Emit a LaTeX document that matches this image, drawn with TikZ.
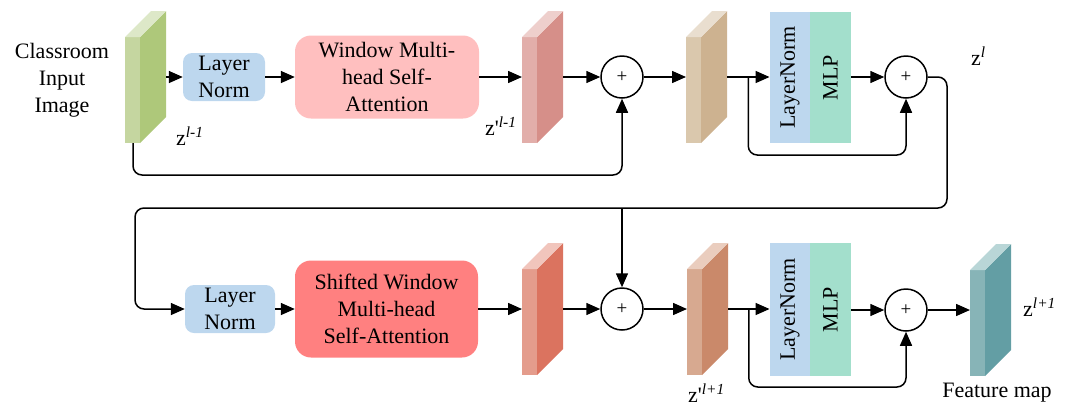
\documentclass[tikz,border=0pt]{standalone}
\usepackage{fontspec}
\setmainfont{Liberation Serif}
\usetikzlibrary{arrows.meta,calc}
\definecolor{lnblue}{RGB}{189,215,238}
\definecolor{mlpgreen}{RGB}{163,223,204}
\definecolor{wpink}{RGB}{255,191,191}
\definecolor{swred}{RGB}{255,128,128}
\definecolor{gF}{RGB}{197,214,160}\definecolor{gS}{RGB}{174,200,122}\definecolor{gT}{RGB}{221,232,200}
\definecolor{pF}{RGB}{226,174,170}\definecolor{pS}{RGB}{214,143,137}\definecolor{pT}{RGB}{238,207,204}
\definecolor{tF}{RGB}{218,200,173}\definecolor{tS}{RGB}{205,178,144}\definecolor{tT}{RGB}{233,222,207}
\definecolor{rF}{RGB}{228,156,140}\definecolor{rS}{RGB}{219,115,95}\definecolor{rT}{RGB}{241,197,188}
\definecolor{qF}{RGB}{215,169,144}\definecolor{qS}{RGB}{202,137,106}\definecolor{qT}{RGB}{234,205,190}
\definecolor{fF}{RGB}{135,180,183}\definecolor{fS}{RGB}{99,158,164}\definecolor{fT}{RGB}{185,214,215}
% #1 name, #2 x, #3 y top of front, #4 front, #5 side, #6 top
\newcommand\featblock[6]{%
  \fill[#4] (#2,#3) rectangle ++(15,106);
  \fill[#5] (#2,#3) ++(15,0) -- ++(26,-26) -- ++(0,106) -- ++(-26,26) -- cycle;
  \fill[#6] (#2,#3) -- ++(15,0) -- ++(26,-26) -- ++(-15,0) -- cycle;
  \path (#2,#3) ++(0,40) coordinate (#1L) ++(41,0) coordinate (#1R);
  \path (#2,#3) ++(8,106) coordinate (#1B);
}
\tikzset{
  txt/.style={font=\fontsize{22}{27}\selectfont},
  arr/.style={line width=1.5pt,-{Triangle[length=14pt,width=12pt]}},
  boxstyle/.style={txt,rounded corners=9pt,inner sep=0pt,align=center},
  plusnode/.style={circle,draw,line width=1.5pt,minimum size=42pt,inner sep=0pt,font=\fontsize{19}{20}\selectfont},
  vbar/.style={txt,inner sep=0pt,minimum width=40.5pt},
}
\begin{document}
\begin{tikzpicture}[x=1pt,y=-1pt]
\useasboundingbox (0,0) rectangle (1069,408);

% feature blocks
\featblock{g}{125}{37}{gF}{gS}{gT}
\featblock{p}{522}{37}{pF}{pS}{pT}
\featblock{t}{686}{37}{tF}{tS}{tT}
\featblock{r}{522}{269}{rF}{rS}{rT}
\featblock{q}{687}{269}{qF}{qS}{qT}
\featblock{f}{970}{270}{fF}{fS}{fT}

% boxes top row
\node[boxstyle,fill=lnblue,minimum width=82pt,minimum height=48pt] (ln1) at (224,77) {Layer\\Norm};
\node[boxstyle,fill=wpink,rounded corners=16pt,minimum width=184pt,minimum height=83pt] (wmsa) at (387,77) {Window Multi-\\head Self-\\Attention};
\node[vbar,fill=lnblue,minimum height=131pt] (lnA) at (790,77.5) {\rotatebox{90}{LayerNorm}};
\node[vbar,fill=mlpgreen,minimum height=131pt] (mlpA) at (830.5,77.5) {\rotatebox{90}{MLP}};
\node[plusnode] (c1) at (622,77) {+};
\node[plusnode] (c2) at (906,77) {+};

% boxes bottom row
\node[boxstyle,fill=lnblue,minimum width=90pt,minimum height=48pt] (ln2) at (230,309) {Layer\\Norm};
\node[boxstyle,fill=swred,rounded corners=16pt,minimum width=183pt,minimum height=97pt] (swmsa) at (386.5,309) {Shifted Window\\Multi-head\\Self-Attention};
\node[vbar,fill=lnblue,minimum height=133pt] (lnB) at (790,309.5) {\rotatebox{90}{LayerNorm}};
\node[vbar,fill=mlpgreen,minimum height=133pt] (mlpB) at (830.5,309.5) {\rotatebox{90}{MLP}};
\node[plusnode] (c3) at (622,309) {+};
\node[plusnode] (c4) at (906,310) {+};

% labels
\node[txt,align=center] (inlab) at (62,80) {Classroom\\Input\\Image};
\node[txt,anchor=base west,inner sep=0pt] (z1) at (176,145) {z\textsuperscript{\textit{l-1}}};
\node[txt,anchor=base west,inner sep=0pt] (z2) at (485,135) {z\textquotesingle\textsuperscript{\textit{l-1}}};
\node[txt,anchor=base west,inner sep=0pt] (z3) at (971,65) {z\textsuperscript{\textit{l}}};
\node[txt,anchor=base west,inner sep=0pt] (z4) at (688,402) {z\textquotesingle\textsuperscript{\textit{l+1}}};
\node[txt,anchor=base west,inner sep=0pt] (z5) at (1023,316) {z\textsuperscript{\textit{l+1}}};
\node[txt,anchor=base,inner sep=0pt] (fm) at (997,397) {Feature map};

% coordinates for branches and loop
\coordinate (br1) at ($(tR)!0.5!(tR -| lnA.west)$);
\coordinate (br2) at ($(qR)!0.5!(qR -| lnB.west)$);
\coordinate (turnA) at (947,208);
\coordinate (turnB) at (135,208);

% top row connectors
\draw[arr] (gR) -- (ln1.west);
\draw[arr] (ln1.east) -- (wmsa.west);
\draw[arr] (wmsa.east) -- (pL);
\draw[arr] (pR) -- (c1.west);
\draw[arr,rounded corners=9pt] (gB) -- ++(0,32) -| (c1.south);
\draw[arr] (c1.east) -- (tL);
\draw[arr] (tR) -- (tR -| lnA.west);
\draw[arr,rounded corners=9pt] (br1) -- ++(0,78) -| (c2.south);
\draw[arr] (mlpA.east |- c2) -- (c2.west);

% loop to bottom row
\draw[arr,rounded corners=9pt] (c2.east) -| (turnA) -- (turnB) |- (ln2.west);
\draw[arr] (c3 |- turnA) -- (c3.north);

% bottom row connectors
\draw[arr] (ln2.east) -- (swmsa.west);
\draw[arr] (swmsa.east) -- (rL);
\draw[arr] (rR) -- (c3.west);
\draw[arr] (c3.east) -- (qL);
\draw[arr] (qR) -- (qR -| lnB.west);
\draw[arr,rounded corners=9pt] (br2) -- ++(0,78) -| (c4.south);
\draw[arr] (mlpB.east |- c4) -- (c4.west);
\draw[arr] (c4.east) -- (fL);
\end{tikzpicture}
\end{document}
